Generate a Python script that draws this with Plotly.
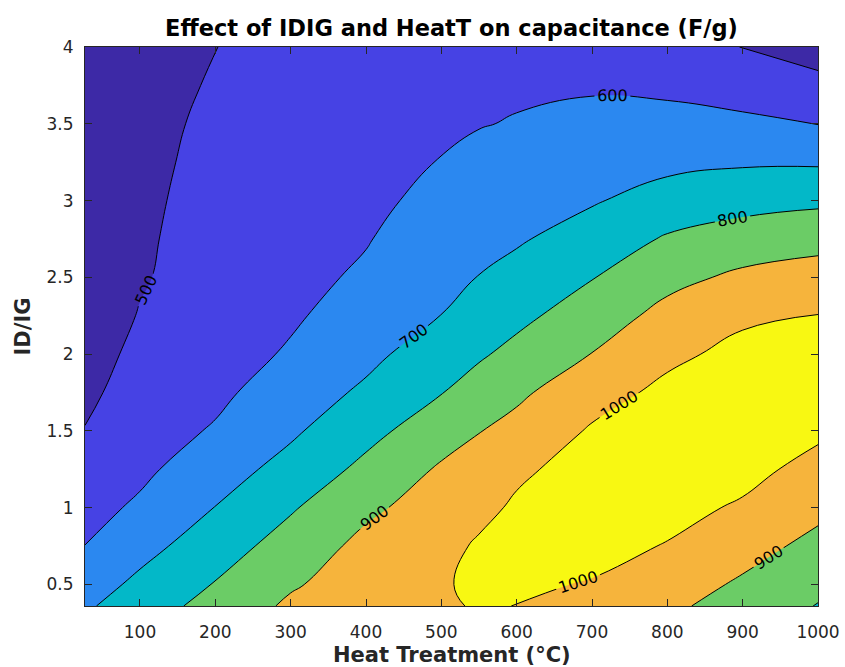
import plotly.graph_objects as go

# Grid of the response surface: heat treatment (°C) columns, ID/IG rows
heat_treatment = [27, 100, 200, 300, 400, 500, 550, 600, 700, 800, 900, 1000]
id_ig = [0.36, 0.5, 0.75, 1.0, 1.25, 1.5, 1.75, 2.0, 2.25, 2.5, 2.75, 3.0, 3.25, 3.5, 3.75, 4.0]

# Capacitance (F/g) along ID/IG (bottom to top) at each heat-treatment temperature
cap_27 = [685, 654, 601, 568, 536, 503, 482, 466, 455, 450, 445, 441, 437, 434, 431, 428]
cap_100 = [757, 722, 667, 615, 580, 556, 537, 520, 504, 493, 489, 485, 481, 477, 471, 465]
cap_200 = [831, 805, 754, 702, 656, 609, 579, 560, 547, 537, 532, 527, 521, 515, 507, 499]
cap_300 = [917, 889, 841, 790, 733, 685, 650, 610, 588, 575, 564, 555, 547, 540, 534, 528]
cap_400 = [965, 950, 927, 880, 824, 770, 716, 676, 642, 613, 595, 582, 572, 562, 554, 547]
cap_500 = [990, 995, 975, 947, 912, 857, 797, 750, 701, 677, 650, 622, 603, 585, 574, 565]
cap_550 = [1006, 1010, 1010, 978, 939, 897, 842, 788, 745, 702, 674, 647, 618, 597, 585, 575]
cap_600 = [999, 1012, 1020, 1012, 985, 930, 882, 827, 776, 730, 690, 660, 632, 604, 590, 578]
cap_700 = [967, 995, 1025, 1038, 1034, 1010, 963, 902, 850, 796, 742, 692, 658, 623, 591, 568]
cap_800 = [920, 947, 996, 1025, 1040, 1040, 1022, 980, 929, 872, 810, 738, 677, 628, 582, 545]
cap_900 = [858, 886, 937, 990, 1025, 1042, 1040, 1025, 985, 919, 845, 766, 689, 619, 558, 498]
cap_1000 = [796, 822, 873, 924, 973, 1015, 1035, 1030, 1002, 940, 869, 781, 689, 598, 522, 465]

columns = [cap_27, cap_100, cap_200, cap_300, cap_400, cap_500, cap_550,
           cap_600, cap_700, cap_800, cap_900, cap_1000]
# z[row][col]: rows follow id_ig, columns follow heat_treatment
z = [list(row) for row in zip(*columns)]

x_ticks = [100, 200, 300, 400, 500, 600, 700, 800, 900, 1000]
y_ticks = [0.5, 1, 1.5, 2, 2.5, 3, 3.5, 4]

# One colour per band: <500, 500-600, ..., >1000
band_colors = ["#3d29a6", "#4642e4", "#2b88f0", "#03b8c8", "#6bcc66", "#f6b43c", "#f8f812"]

# Stepped colour scale: each band colour is held flat around the point where
# the contour fill samples it, so neighbouring colours never blend.
half = 1 / 24
colorscale = [[0.0, band_colors[0]], [1 / 6 - half, band_colors[0]]]
for k in range(1, 6):
    colorscale.append([k / 6 - half + 1e-6, band_colors[k]])
    colorscale.append([k / 6 + half, band_colors[k]])
colorscale.append([1 - half + 1e-6, band_colors[6]])
colorscale.append([1.0, band_colors[6]])

AXIS_COLOR = "#262626"
FONT = "DejaVu Sans"

fig = go.Figure(
    go.Contour(
        x=heat_treatment,
        y=id_ig,
        z=z,
        colorscale=colorscale,
        showscale=False,
        contours=dict(
            start=500,
            end=1000,
            size=100,
            coloring="fill",
            showlabels=True,
            labelfont=dict(family=FONT, size=16, color="black"),
        ),
        line=dict(color="black", width=1, smoothing=1.3),
        hoverinfo="skip",
    )
)

fig.update_layout(
    width=845,
    height=667,
    margin=dict(l=85, r=27, t=47, b=61),
    paper_bgcolor="white",
    plot_bgcolor="white",
    font=dict(family=FONT, color=AXIS_COLOR),
    title=dict(
        text="<b>Effect of IDIG and HeatT on capacitance (F/g)</b>",
        font=dict(family=FONT, size=22.5, color="black"),
        x=0.5,
        xref="paper",
        xanchor="center",
        y=1 - 28 / 667,
        yanchor="middle",
    ),
    showlegend=False,
)

fig.update_xaxes(
    range=[27, 1000],
    tickvals=x_ticks,
    ticks="inside",
    ticklen=7,
    tickcolor=AXIS_COLOR,
    tickfont=dict(family=FONT, size=17, color=AXIS_COLOR),
    ticklabelstandoff=11,
    showline=True,
    linecolor=AXIS_COLOR,
    linewidth=1,
    mirror="ticks",
    showgrid=False,
    zeroline=False,
    automargin=False,
)
fig.update_yaxes(
    range=[0.36, 4],
    tickvals=y_ticks,
    ticks="inside",
    ticklen=7,
    tickcolor=AXIS_COLOR,
    tickfont=dict(family=FONT, size=17, color=AXIS_COLOR),
    ticklabelstandoff=7,
    showline=True,
    linecolor=AXIS_COLOR,
    linewidth=1,
    mirror="ticks",
    showgrid=False,
    zeroline=False,
    automargin=False,
)

# Axis titles
fig.add_annotation(
    text="<b>Heat Treatment (°C)</b>",
    xref="paper", yref="paper",
    x=0.5, y=-(655 - 606) / 559,
    xanchor="center", yanchor="middle",
    showarrow=False,
    font=dict(family=FONT, size=21, color=AXIS_COLOR),
)
fig.add_annotation(
    text="<b>ID/IG</b>",
    xref="paper", yref="paper",
    x=-(85 - 22) / 733, y=0.5,
    xanchor="center", yanchor="middle",
    textangle=-90,
    showarrow=False,
    font=dict(family=FONT, size=21, color=AXIS_COLOR),
)

fig.write_html("out.html")
